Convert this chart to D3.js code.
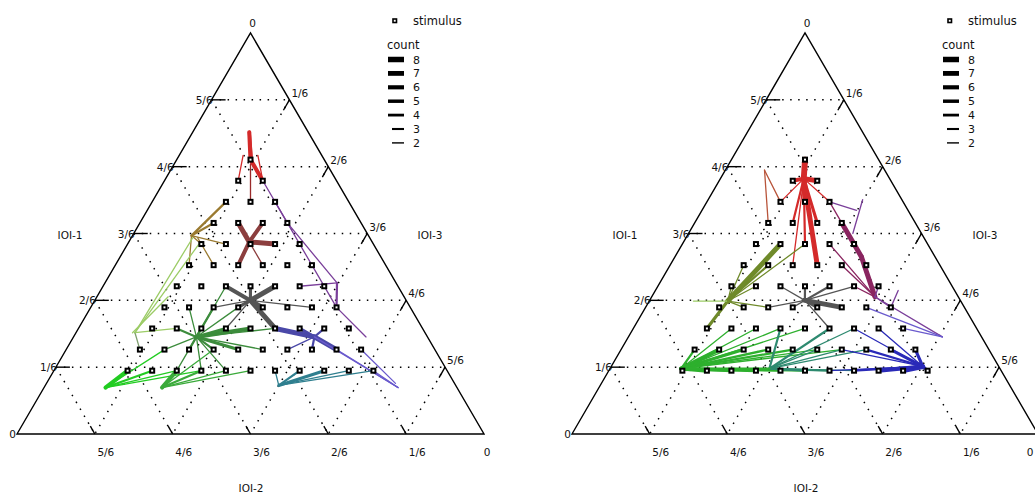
<!DOCTYPE html>
<html>
<head>
<meta charset="utf-8">
<script src="https://cdn.jsdelivr.net/npm/d3@7"></script>
<style>
  body { margin: 0; background: #fff; }
  text { font-family: "DejaVu Sans", sans-serif; fill: #111; }
</style>
</head>
<body>
<div id="chart"></div>
<script>
// chart size
var svgWidth = 1035;
var svgHeight = 497;

// lattice: three intervals in units, summing to 19, each at least 3
var total = 19;
var minUnit = 3;
var tickLabels = ["1/6", "2/6", "3/6", "4/6", "5/6"];
var legendCounts = [8, 7, 6, 5, 4, 3, 2];
var axisNames = ["IOI-1", "IOI-2", "IOI-3"];

// segments: [IOI1 from, IOI3 from, IOI1 to, IOI3 to, count, colour key]
var leftSegs = [
  // red, top
  [13, 3, 14.3, 2.3, 5, "red"], [12, 4, 12.9, 3.1, 5, "red"], [12.9, 3.1, 14.3, 2.3, 4, "red"],
  [12, 3, 13.2, 2.6, 2, "red"], [12, 4, 13.2, 3.2, 2, "red"], [11, 4, 12.8, 3.1, 2, "darkred"],
  // maroon X
  [10, 4, 9.1, 4.9, 6, "maroon"], [10, 5, 9.1, 4.9, 5, "maroon"], [8, 5, 9.1, 4.9, 5, "maroon"],
  [9, 6, 9.1, 4.9, 6, "maroon"], [8, 6, 9.1, 4.9, 2, "maroon"],
  // olive
  [11, 3, 9.4, 2.4, 3, "olive"], [10, 3, 9.4, 2.4, 3, "olive"], [9, 4, 9.4, 2.4, 2, "olive"],
  [9, 3, 9.4, 2.4, 2, "olive"], [8, 3, 9.4, 2.4, 2, "olive"], [8, 4, 9.3, 2.7, 2, "olive"],
  // light green strands
  [4.8, 2.4, 9.3, 2.5, 2, "lime"], [4.8, 2.4, 9.0, 2.9, 2, "lime"], [4.8, 2.3, 6.5, 2.9, 2, "lime"],
  [4, 3, 4.8, 2.4, 2, "sage"], [5, 4, 4.8, 2.4, 2, "lime"],
  // gray X
  [7, 5, 6.33, 6.33, 5, "gray"], [7, 6, 6.33, 6.33, 4, "gray"], [7, 7, 6.33, 6.33, 6, "gray"],
  [6, 6, 6.33, 6.33, 4, "gray"], [6, 7, 6.33, 6.33, 5, "gray"], [6.33, 6.33, 5, 8, 6, "gray"],
  [6, 5, 6.33, 6.33, 2, "gray"], [5, 6, 6.33, 6.33, 2, "gray"], [6, 9, 6.33, 6.33, 2, "gray"],
  // blue
  [5, 8, 4.6, 9.8, 6, "blue"], [5, 9, 4.6, 9.8, 4, "blue"], [5, 10, 4.6, 9.8, 3, "blue"],
  [4, 10, 4.6, 9.8, 3, "blue"], [4, 11, 4.6, 9.8, 6, "blue"], [4, 9, 4.6, 9.8, 2, "blue"],
  [4.6, 9.8, 2.2, 14.4, 2, "violet"], [4, 11, 2.2, 14.4, 2, "violet"], [3, 13, 2.2, 14.4, 2, "violet"],
  [4, 12, 2.4, 14.2, 2, "violet"],
  // teal
  [3, 11, 2.3, 9.5, 4, "teal"], [3, 10, 2.3, 9.5, 3, "teal"], [3, 12, 2.3, 9.5, 2, "teal"],
  [3, 9, 2.3, 9.5, 2, "teal"], [3, 13, 2.3, 9.5, 2, "teal"],
  // purple
  [7, 8, 7.16, 9.44, 2, "purple"], [7.16, 9.44, 6, 10, 3, "purple"], [11, 5, 10, 6, 2, "purple"],
  [10, 6, 7.16, 9.44, 2, "purple"], [10, 6, 6, 10, 2, "purple"], [12, 4, 10, 6, 2, "purple"],
  [6, 10, 4.6, 11.9, 2, "purple"],
  // green star
  [5, 7, 4.6, 5, 5, "green"], [5, 6, 4.6, 5, 4, "green"], [4, 7, 4.6, 5, 4, "green"],
  [4, 6, 4.6, 5, 3, "green"], [3, 6, 4.6, 5, 2, "green"], [3, 7, 4.6, 5, 2, "green"],
  [6, 5, 4.6, 5, 3, "green"], [6, 4, 4.6, 5, 2, "green"], [5, 4, 4.6, 5, 3, "green"],
  [4, 4, 4.6, 5, 2, "green"], [5, 5, 4.6, 5, 3, "green"], [4, 5, 4.6, 5, 3, "green"],
  [6, 6, 4.6, 5, 2, "green"], [3, 5, 4.6, 5, 2, "green"], [7, 5, 4.6, 5, 2, "green"],
  [5, 8, 4.6, 5, 2, "green"], [4, 8, 4.6, 5, 2, "green"],
  // bright greens, bottom left
  [3, 3, 2.2, 2.5, 5, "bright"], [3, 4, 2.2, 2.5, 3, "bright"], [3, 5, 2.2, 2.5, 2, "bright"],
  [3, 6, 2.2, 2.5, 2, "bright"], [4, 4, 2.2, 2.5, 2, "bright"],
  [3, 5, 2.2, 4.8, 5, "green3"], [3, 6, 2.2, 4.8, 3, "green3"], [3, 7, 2.2, 4.8, 2, "green3"],
  [3, 8, 2.2, 4.8, 2, "green3"], [4, 6, 2.2, 4.8, 2, "green3"]
];

var rightSegs = [
  // red, top
  [13, 3, 12.1, 3.4, 7, "red"], [12, 3, 12.1, 3.4, 5, "red"], [12, 4, 12.1, 3.4, 6, "red"],
  [11, 4, 12.1, 3.4, 6, "red"], [10, 4, 12.1, 3.4, 3, "red"], [10, 5, 12.1, 3.4, 4, "red"],
  [8, 6, 12.1, 3.4, 6, "red"], [9, 5, 12.1, 3.4, 3, "red"], [8, 5, 12.1, 3.4, 2, "red"],
  [11, 3, 12.1, 3.4, 2, "red"], [11, 5, 12.1, 3.4, 2, "red"],
  [10, 3, 12.5, 1.6, 2, "rust"], [11, 3, 12.5, 1.6, 2, "rust"],
  // magenta band
  [10, 6, 8.4, 7.6, 6, "magenta"], [8.4, 7.6, 6.5, 9.1, 6, "magenta"], [9, 7, 8.4, 7.6, 3, "magenta"],
  [11, 5, 8.4, 7.6, 2, "magenta"], [8, 7, 6.5, 9.1, 2, "magenta"], [7, 8, 6.5, 9.1, 2, "magenta"],
  [9, 6, 6.5, 9.1, 2, "magenta"],
  // purple strands
  [6.5, 9.1, 6, 10, 2, "purple"], [6, 10, 6.8, 9.9, 2, "purple"], [6.5, 9.1, 4.6, 12.8, 2, "purple"],
  [6, 9, 4.6, 12.8, 2, "violet"], [11, 5, 10.6, 6.3, 2, "purple"], [11.1, 6.3, 9.5, 6.7, 2, "purple"],
  [5, 11, 4.6, 12.8, 2, "violet"], [7, 9, 6.5, 9.1, 2, "purple"],
  // gray
  [6, 8, 6.33, 6.33, 6, "gray"], [6, 7, 6.33, 6.33, 4, "gray"], [7, 7, 6.33, 6.33, 3, "gray"],
  [7, 6, 6.33, 6.33, 3, "gray"], [6, 6, 6.33, 6.33, 2, "gray"], [7, 5, 6.33, 6.33, 2, "gray"],
  [5, 8, 6.33, 6.33, 2, "gray"], [6, 5, 6.33, 6.33, 2, "gray"], [7, 8, 6.33, 6.33, 2, "gray"],
  // olive
  [9, 4, 6.3, 3.2, 6, "olive2"], [6.3, 3.2, 5, 3, 4, "olive2"], [8, 4, 6.3, 3.2, 3, "olive2"],
  [8, 3, 6.3, 3.2, 2, "olive2"], [7, 4, 6.3, 3.2, 2, "olive2"], [6, 4, 6.3, 3.2, 2, "olive2"],
  [6, 5, 6.3, 3.2, 2, "olive2"], [6.3, 3.2, 6.3, 1.8, 2, "lime"], [7, 3, 6.3, 3.2, 2, "olive2"],
  [9, 5, 6.3, 3.2, 2, "olive2"],
  // green, bottom left
  [4, 4, 3.1, 2.9, 5, "green2"], [3, 4, 3.1, 2.9, 5, "green2"], [3, 5, 3.1, 2.9, 4, "green2"],
  [3, 6, 3.1, 2.9, 4, "green2"], [4, 5, 3.1, 2.9, 4, "green2"], [4, 6, 3.1, 2.9, 3, "green2"],
  [4, 7, 3.1, 2.9, 3, "green2"], [3, 7, 3.1, 2.9, 3, "green2"], [3, 8, 3.1, 2.9, 3, "green2"],
  [5, 4, 3.1, 2.9, 2, "green2"], [5, 5, 3.1, 2.9, 2, "green2"], [5, 6, 3.1, 2.9, 2, "green2"],
  [4, 8, 3.1, 2.9, 2, "green2"], [3, 9, 3.1, 2.9, 2, "green2"], [4, 9, 3.1, 2.9, 2, "green2"],
  [5, 7, 3.1, 2.9, 2, "green2"], [4, 3, 3.1, 2.9, 3, "green2"],
  // teal
  [5, 6, 3.1, 6.5, 3, "teal2"], [5, 8, 3.1, 6.5, 3, "teal2"], [4, 8, 3.1, 6.5, 2, "teal2"],
  [4, 9, 3.1, 6.5, 2, "teal2"], [3, 8, 3.1, 6.5, 3, "teal2"], [3, 9, 3.1, 6.5, 3, "teal2"],
  [3, 10, 3.1, 6.5, 2, "teal2"], [5, 9, 3.1, 6.5, 2, "teal2"], [4, 10, 3.1, 6.5, 2, "teal2"],
  [3.1, 6.5, 3.1, 2.9, 3, "green2"],
  // blue
  [3, 12, 3.2, 12.7, 6, "blue2"], [3, 11, 3.2, 12.7, 5, "blue2"], [3, 10, 3.2, 12.7, 3, "blue2"],
  [4, 12, 3.2, 12.7, 4, "blue2"], [4, 11, 3.2, 12.7, 4, "blue2"], [4, 10, 3.2, 12.7, 3, "blue2"],
  [5, 10, 3.2, 12.7, 2, "blue2"], [5, 9, 3.2, 12.7, 2, "blue2"], [3, 9, 3.2, 12.7, 2, "blue2"],
  [3, 13, 3.2, 12.7, 4, "blue2"], [4, 9, 3.2, 12.7, 2, "blue2"]
];

// colours for each key
var palette = {
  red: "#d42a2a", darkred: "#9a2a2a", maroon: "#8c3e3e", olive: "#9a7a30",
  lime: "#9ccc66", sage: "#7f9f6f", gray: "#555555", blue: "#4a48a8",
  violet: "#6a5acd", teal: "#2f7f8f", purple: "#7a3f9a", green: "#3c8c3c",
  bright: "#22cc22", green3: "#3aaa3a", rust: "#b8543a", magenta: "#8a2560",
  olive2: "#6f8a2a", green2: "#2eb02e", teal2: "#2e8a70", blue2: "#2a2ab8"
};

// geometry of one triangle
var baseY = 434, topY = 33;

var svg = d3.select("#chart").append("svg")
  .attr("width", svgWidth)
  .attr("height", svgHeight);

svg.append("rect").attr("width", svgWidth).attr("height", svgHeight).attr("fill", "#fff");

var widthScale = d3.scaleLinear().domain([2, 8]).range([1.3, 6.8]);
var legendScale = d3.scaleLinear().domain([2, 8]).range([1.4, 5.5]);

// stimulus lattice points
var stimuli = [];
for (var a = minUnit; a <= total - 2 * minUnit; a++) {
  for (var c = minUnit; c <= total - a - minUnit; c++) {
    stimuli.push([a, c]);
  }
}

function drawPanel(x0, W, segs) {
  var g = svg.append("g");
  var xs = d3.scaleLinear().domain([0, total]).range([x0, x0 + W]);
  var ys = d3.scaleLinear().domain([0, total]).range([baseY, topY]);
  function px(a, c) { return [xs(a / 2 + c), ys(a)]; }
  var line = d3.line();

  // dotted grid
  var grid = g.append("g")
    .attr("stroke", "#000")
    .attr("stroke-width", 1.5)
    .attr("stroke-dasharray", "1.5,6.5")
    .attr("fill", "none");
  d3.range(1, 6).forEach(function(k) {
    var f = k / 6 * total;
    grid.append("path").attr("d", line([px(f, 0), px(f, total - f)]));
    grid.append("path").attr("d", line([px(total - f, f), px(0, f)]));
    grid.append("path").attr("d", line([px(total - f, 0), px(0, total - f)]));
  });

  // triangle
  g.append("path")
    .attr("d", line([px(0, 0), px(total, 0), px(0, total)]) + "Z")
    .attr("fill", "none")
    .attr("stroke", "#000")
    .attr("stroke-width", 1.4);

  // ticks and labels
  tickLabels.forEach(function(lab, i) {
    var f = (i + 1) / 6 * total;
    // left edge, IOI-1
    var p = px(f, 0);
    g.append("line").attr("x1", p[0]).attr("y1", p[1]).attr("x2", p[0] + 14).attr("y2", p[1])
      .attr("stroke", "#000").attr("stroke-width", 1.4);
    g.append("text").attr("x", p[0] + 1).attr("y", p[1] + 4)
      .attr("text-anchor", "end").attr("font-size", 10.5).text(lab);
    // right edge, IOI-3
    var q = px(total - f, f);
    g.append("line").attr("x1", q[0]).attr("y1", q[1]).attr("x2", q[0] - 6).attr("y2", q[1] + 10.4)
      .attr("stroke", "#000").attr("stroke-width", 1.4);
    g.append("text").attr("x", q[0] + 2).attr("y", q[1] - 3)
      .attr("font-size", 10.5).text(lab);
    // bottom edge, IOI-2
    var r = px(0, total - f);
    g.append("line").attr("x1", r[0]).attr("y1", r[1]).attr("x2", r[0] - 4.5).attr("y2", r[1] - 7.8)
      .attr("stroke", "#000").attr("stroke-width", 1.4);
    g.append("text").attr("x", r[0] + 11).attr("y", r[1] + 22)
      .attr("text-anchor", "middle").attr("font-size", 10.5).text(lab);
  });

  // corner zeros
  var apex = px(total, 0), bl = px(0, 0), br = px(0, total);
  g.append("text").attr("x", apex[0] + 2).attr("y", apex[1] - 6).attr("text-anchor", "middle").attr("font-size", 10.5).text("0");
  g.append("text").attr("x", bl[0] - 1).attr("y", bl[1] + 4).attr("text-anchor", "end").attr("font-size", 10.5).text("0");
  g.append("text").attr("x", Math.min(br[0] + 3, svgWidth - 5)).attr("y", br[1] + 22).attr("text-anchor", "middle").attr("font-size", 10.5).text("0");

  // axis names
  g.append("text").attr("x", x0 + 53).attr("y", 239).attr("text-anchor", "middle").attr("font-size", 10.5).text(axisNames[0]);
  g.append("text").attr("x", x0 + 234).attr("y", 492).attr("text-anchor", "middle").attr("font-size", 10.5).text(axisNames[1]);
  g.append("text").attr("x", x0 + 413).attr("y", 239).attr("text-anchor", "middle").attr("font-size", 10.5).text(axisNames[2]);

  // response paths
  g.append("g").selectAll("path")
    .data(segs)
    .enter()
    .append("path")
    .attr("d", function(d) { return line([px(d[0], d[1]), px(d[2], d[3])]); })
    .attr("stroke", function(d) { return palette[d[5]]; })
    .attr("stroke-width", function(d) { return widthScale(d[4]); })
    .attr("stroke-linecap", "round")
    .attr("fill", "none");

  // stimulus squares
  g.append("g").selectAll("rect")
    .data(stimuli)
    .enter()
    .append("rect")
    .attr("x", function(d) { return px(d[0], d[1])[0] - 2; })
    .attr("y", function(d) { return px(d[0], d[1])[1] - 2; })
    .attr("width", 4)
    .attr("height", 4)
    .attr("fill", "#fff")
    .attr("stroke", "#000")
    .attr("stroke-width", 2);

  // legend
  var lg = g.append("g");
  lg.append("rect").attr("x", x0 + 376).attr("y", 19).attr("width", 3.5).attr("height", 3.5)
    .attr("fill", "#fff").attr("stroke", "#000").attr("stroke-width", 1.6);
  lg.append("text").attr("x", x0 + 396).attr("y", 25).attr("font-size", 11.5).text("stimulus");
  lg.append("text").attr("x", x0 + 370).attr("y", 49).attr("font-size", 11.5).text("count");
  legendCounts.forEach(function(n, i) {
    var y = 59.5 + i * 13.9;
    var h = legendScale(n);
    var w = n > 3 ? 16 : 12;
    lg.append("rect").attr("x", x0 + 387 - w).attr("y", y - h / 2).attr("width", w).attr("height", h).attr("fill", "#000");
    lg.append("text").attr("x", x0 + 396).attr("y", y + 4).attr("font-size", 11).text(n);
  });
}

drawPanel(17, 467, leftSegs);
drawPanel(572, 466, rightSegs);
</script>
</body>
</html>
